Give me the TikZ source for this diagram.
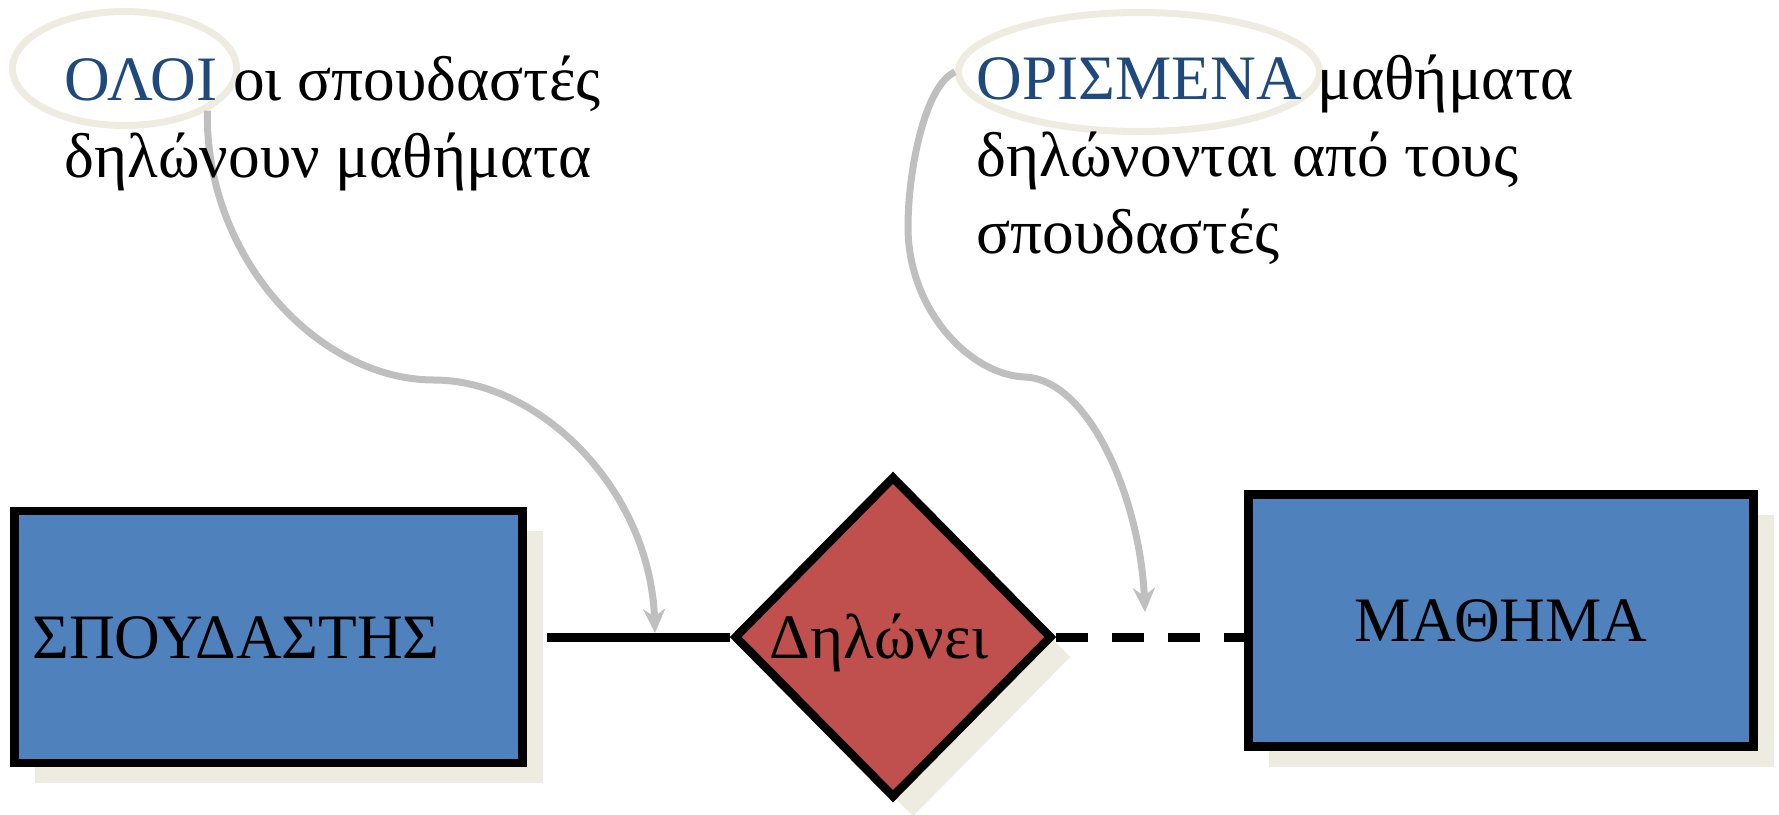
\documentclass[tikz,border=0pt]{standalone}
\usepackage{fontspec}
\setmainfont{Liberation Serif}
\usetikzlibrary{arrows.meta, positioning, shapes.geometric, shadows}

\definecolor{boxblue}{HTML}{4F81BD}
\definecolor{relred}{HTML}{C0504D}
\definecolor{shadowcol}{HTML}{EEECE1}
\definecolor{notegray}{HTML}{BFBFBF}
\definecolor{keyblue}{HTML}{1F497D}

\begin{document}
\begin{tikzpicture}[>={Stealth[length=0.24cm, width=0.22cm]}, font=\fontsize{18}{21.9}\selectfont,
    box shadow/.style={drop shadow={shadow xshift=0.2cm, shadow yshift=-0.2cm, fill=shadowcol, opacity=1}},
    entity/.style={rectangle, draw, line width=0.085cm, fill=boxblue, minimum width=5.06cm, minimum height=2.52cm, text height=0.42cm, text depth=0pt, box shadow},
    relation/.style={diamond, draw, line width=0.085cm, fill=relred, minimum width=3.18cm, minimum height=3.22cm, inner sep=0pt, text height=0.42cm, text depth=0pt, box shadow},
    keyring/.style={ellipse, draw=shadowcol, line width=0.07cm},
    note/.style={align=left, inner sep=0pt, anchor=base west},
    hint/.style={->, draw=notegray, line width=0.07cm}]
    \path[use as bounding box] (0,0) rectangle (17.79,-8.14);

    \node[keyring, minimum width=2.24cm, minimum height=1.14cm] (E1) at (1.245,-0.685) {};
    \node[keyring, minimum width=3.61cm, minimum height=1.19cm] (E2) at (11.39,-0.72) {};

    \node[relation] (D) at (8.93,-6.37) {\hspace*{-0.28cm}Δηλώνει};
    \node[entity, text width=4.72cm, inner xsep=0.18cm, align=left, left=2.03cm of D] (S) {ΣΠΟΥΔΑΣΤΗΣ};
    \node[entity, minimum width=5.05cm, right=1.88cm of D, yshift=0.165cm] (M) {ΜΑΘΗΜΑ};

    \coordinate (tipA) at (6.55,-6.33);
    \coordinate (tipB) at (11.45,-6.12);

    \draw[hint] (E1.-27) .. controls (2.05,-2.6) and (3.2,-3.8) .. (4.34,-3.8)
        .. controls (5.4,-3.8) and (6.5,-4.9) .. (tipA);
    \draw[hint] (E2.west) .. controls (9.25,-0.85) and (9.08,-1.7) .. (9.08,-2.27)
        .. controls (9.08,-3.1) and (9.7,-3.75) .. (10.25,-3.77)
        .. controls (10.9,-3.8) and (11.4,-5.0) .. (tipB);

    \node[note] (L) at (0.64,-1.775) {\textcolor{keyblue}{ΟΛΟΙ} οι σπουδαστές\\δηλώνουν μαθήματα};
    \node[note] (R) at (9.76,-2.535) {\textcolor{keyblue}{ΟΡΙΣΜΕΝΑ} μαθήματα\\δηλώνονται από τους\\σπουδαστές};

    \draw[line width=0.09cm, shorten <=0.2cm] (S.east) -- (D.west);
    \draw[line width=0.09cm, dash pattern=on 0.32cm off 0.24cm] (D.east) -- (D.east -| M.west); % dashed: partial participation
\end{tikzpicture}
\end{document}
